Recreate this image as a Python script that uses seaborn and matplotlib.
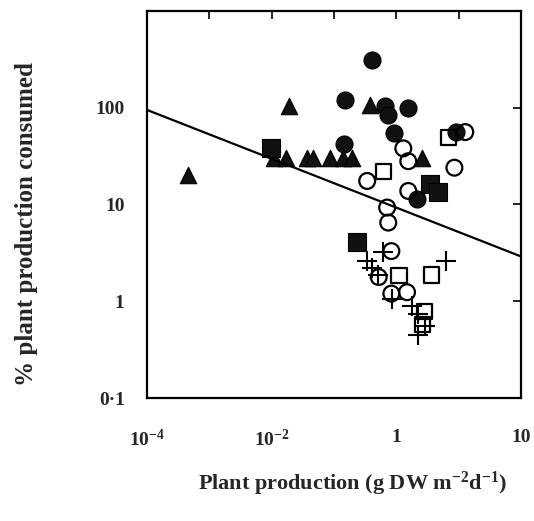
import numpy as np
import pandas as pd
import seaborn as sns
import matplotlib.pyplot as plt
from matplotlib.ticker import FixedLocator, NullLocator, NullFormatter

# data (x: g DW m-2 d-1, y: % consumed)
filled_circle_x = [0.41, 0.15, 0.66, 1.55, 0.74, 0.90, 0.145, 9.1, 2.15]
filled_circle_y = [312, 120, 103, 100, 85, 55, 42, 56, 11.3]

filled_triangle_x = [0.019, 4.6e-4, 0.38, 0.011, 0.017, 0.037, 0.046, 0.087, 0.14, 0.196, 2.6]
filled_triangle_y = [105, 20, 107, 30, 30, 30, 30, 30, 30, 30, 30]

filled_square_x = [0.0098, 3.5, 4.7, 0.23]
filled_square_y = [38, 16.3, 13.6, 4.1]

open_circle_x = [1.29, 1.55, 0.34, 8.5, 12.7, 1.55, 0.71, 0.74, 0.83, 0.52, 0.83, 1.48]
open_circle_y = [38, 28, 17.5, 24, 56, 13.8, 9.3, 6.5, 3.3, 1.78, 1.2, 1.24]

open_square_x = [0.62, 6.8, 1.1, 3.6, 2.8, 2.6]
open_square_y = [22, 49, 1.83, 1.87, 0.78, 0.58]

cross_x = [6.3, 0.62, 0.34, 0.41, 0.51, 0.85, 1.78, 2.2, 2.9, 2.2]
cross_y = [2.6, 3.2, 2.6, 2.2, 1.87, 1.05, 0.89, 0.74, 0.55, 0.45]

line_x = [1e-4, 1e2]
line_y = [95, 2.9]

x_ticks = [1e-4, 1e-2, 1, 1e2]
x_labels = ["10$^{-4}$", "10$^{-2}$", "1", "10"]
y_ticks = [0.1, 1, 10, 100]
y_labels = ["0\u00b71", "1", "10", "100"]

groups = [
    ("filled circle", filled_circle_x, filled_circle_y, "o", True, 150),
    ("filled triangle", filled_triangle_x, filled_triangle_y, "^", True, 140),
    ("filled square", filled_square_x, filled_square_y, "s", True, 150),
    ("open circle", open_circle_x, open_circle_y, "o", False, 130),
    ("open square", open_square_x, open_square_y, "s", False, 120),
    ("cross", cross_x, cross_y, "+", False, 190),
]

sns.set_theme(style="white")
plt.rcParams['font.family'] = ['Liberation Serif', 'DejaVu Serif']
plt.rcParams['font.weight'] = 'bold'
plt.rcParams['mathtext.fontset'] = 'custom'
plt.rcParams['mathtext.rm'] = 'Liberation Serif:bold'
plt.rcParams['mathtext.it'] = 'Liberation Serif:bold'
plt.rcParams['mathtext.bf'] = 'Liberation Serif:bold'
plt.rcParams['mathtext.default'] = 'regular'

fig = plt.figure(figsize=(5.34, 5.21), dpi=100)
ax = fig.add_axes([0.275, 0.236, 0.701, 0.743])

for name, xs, ys, marker, filled, size in groups:
    df = pd.DataFrame({"x": xs, "y": ys})
    if marker == "+":
        sns.scatterplot(data=df, x="x", y="y", marker="+", s=size,
                        color="black", linewidth=1.5, ax=ax)
    elif filled:
        sns.scatterplot(data=df, x="x", y="y", marker=marker, s=size,
                        color="#111111", edgecolor="black", linewidth=0.8, ax=ax)
    else:
        sns.scatterplot(data=df, x="x", y="y", marker=marker, s=size,
                        facecolor="none", edgecolor="black", linewidth=1.6, ax=ax)

sns.lineplot(x=line_x, y=line_y, color="black", linewidth=1.6, ax=ax)

ax.set_xscale("log")
ax.set_yscale("log")
ax.set_xlim(1e-4, 1e2)
ax.set_ylim(0.1, 1000)

ax.xaxis.set_major_locator(FixedLocator(x_ticks))
ax.set_xticklabels(x_labels)
ax.xaxis.set_minor_locator(FixedLocator([1e-3, 1e-1, 1e1]))
ax.xaxis.set_minor_formatter(NullFormatter())
ax.yaxis.set_major_locator(FixedLocator(y_ticks))
ax.set_yticklabels(y_labels)
ax.yaxis.set_minor_locator(NullLocator())

ax.tick_params(which="both", direction="in", top=True, right=True,
               length=6, width=1.4, labelsize=14)
ax.tick_params(axis="x", which="major", pad=22)
ax.tick_params(axis="y", which="major", pad=16)
for lbl in ax.get_xticklabels() + ax.get_yticklabels():
    lbl.set_fontweight("bold")

for sp in ax.spines.values():
    sp.set_linewidth(1.6)
    sp.set_color("black")

ax.set_xlabel("Plant production (g DW m$^{-2}$d$^{-1}$)", fontsize=16,
              fontweight="bold")
ax.set_ylabel("% plant production consumed", fontsize=18,
              fontweight="bold")
ax.xaxis.set_label_coords(0.55, -0.185)
ax.yaxis.set_label_coords(-0.29, 0.45)
ax.grid(False)

fig.savefig("out.png", dpi=100)
